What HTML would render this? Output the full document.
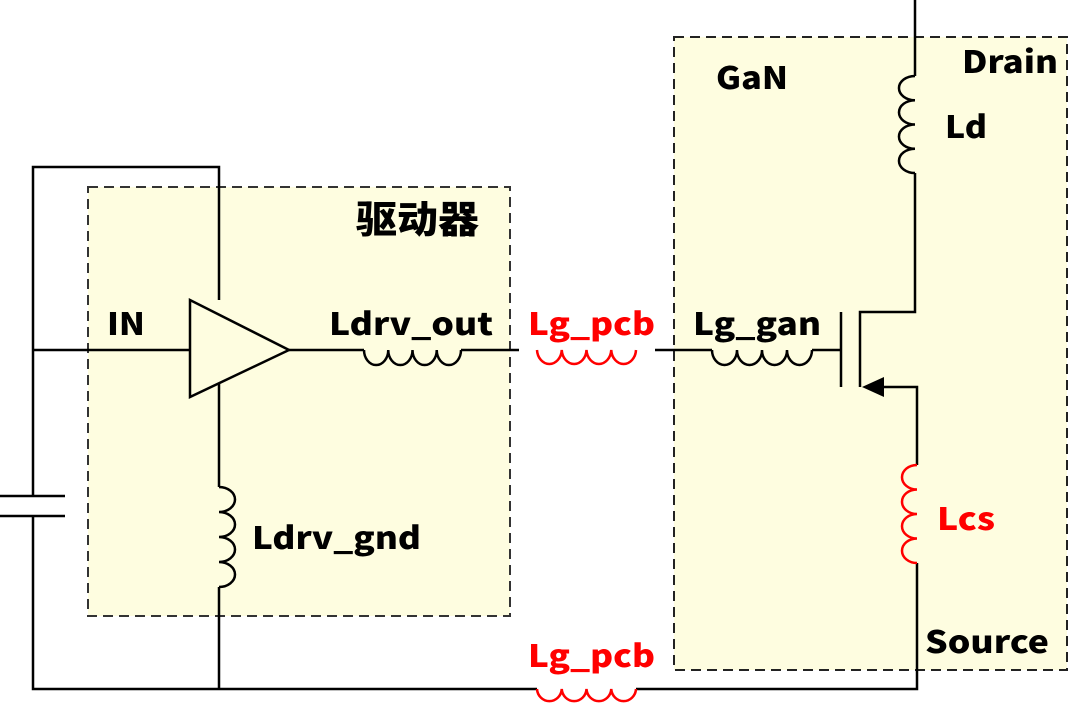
<!DOCTYPE html>
<html><head><meta charset="utf-8"><style>
html,body{margin:0;padding:0;background:#fff;}
svg{display:block;}
text{font-family:"Noto Sans CJK SC","Liberation Sans",sans-serif;font-weight:900;font-size:31px;}
</style></head><body>
<svg width="1080" height="704" viewBox="0 0 1080 704" xmlns="http://www.w3.org/2000/svg">
<rect x="88" y="187" width="422" height="429" fill="#fefde0" stroke="#333" stroke-width="2" stroke-dasharray="10,6"/>
<rect x="674" y="37" width="393" height="633" fill="#fefde0" stroke="#222" stroke-width="2" stroke-dasharray="10,6"/>
<g fill="none" stroke="#000" stroke-width="2.5">
<polyline points="219,300 219,167 33,167 33,496"/>
<line x1="33" y1="350" x2="190" y2="350"/>
<line x1="0" y1="496" x2="65" y2="496"/>
<line x1="0" y1="516" x2="65" y2="516"/>
<polyline points="33,516 33,689 537,689"/>
<polyline points="636,689 917,689 917,563"/>
<polygon points="190,300 190,397 289,350" fill="#fefde0"/>
<line x1="219" y1="384" x2="219" y2="487"/>
<path d="M219,487 a16,12.5 0 0 1 0,25 a16,12.5 0 0 1 0,25 a16,12.5 0 0 1 0,25 a16,12.5 0 0 1 0,25"/>
<line x1="219" y1="587" x2="219" y2="689"/>
<line x1="289" y1="350" x2="364" y2="350"/>
<path d="M364,350 a12.1,15 0 0 0 24.25,0 a12.1,15 0 0 0 24.25,0 a12.1,15 0 0 0 24.25,0 a12.1,15 0 0 0 24.25,0"/>
<line x1="461" y1="350" x2="519" y2="350"/>
<line x1="655" y1="350" x2="712" y2="350"/>
<path d="M712,350 a12.5,15 0 0 0 25,0 a12.5,15 0 0 0 25,0 a12.5,15 0 0 0 25,0 a12.5,15 0 0 0 25,0"/>
<line x1="812" y1="350" x2="841" y2="350"/>
<line x1="841" y1="312" x2="841" y2="387"/>
<polyline points="860,387 860,312 915,312 915,173"/>
<path d="M915,173 a16,12.1 0 0 1 0,-24.25 a16,12.1 0 0 1 0,-24.25 a16,12.1 0 0 1 0,-24.25 a16,12.1 0 0 1 0,-24.25"/>
<line x1="915" y1="76" x2="915" y2="0"/>
<polyline points="880,387 917,387 917,465"/>
</g>
<polygon points="862,387 884,377 884,397" fill="#000"/>
<g fill="none" stroke="#f00" stroke-width="2.5">
<path d="M537,350 a12.4,15 0 0 0 24.75,0 a12.4,15 0 0 0 24.75,0 a12.4,15 0 0 0 24.75,0 a12.4,15 0 0 0 24.75,0"/>
<path d="M537,689 a12.4,13 0 0 0 24.75,0 a12.4,13 0 0 0 24.75,0 a12.4,13 0 0 0 24.75,0 a12.4,13 0 0 0 24.75,0"/>
<path d="M917,465 a15,12.25 0 0 0 0,24.5 a15,12.25 0 0 0 0,24.5 a15,12.25 0 0 0 0,24.5 a15,12.25 0 0 0 0,24.5"/>
</g>
<text x="107" y="335" textLength="38" lengthAdjust="spacingAndGlyphs">IN</text>
<text x="329" y="335" textLength="164" lengthAdjust="spacingAndGlyphs">Ldrv_out</text>
<text x="252" y="549" textLength="169" lengthAdjust="spacingAndGlyphs">Ldrv_gnd</text>
<text x="356" y="233" style="font-size:38px" textLength="123" lengthAdjust="spacingAndGlyphs">驱动器</text>
<text x="528" y="335" fill="#f00" textLength="127" lengthAdjust="spacingAndGlyphs">Lg_pcb</text>
<text x="528" y="667" fill="#f00" textLength="127" lengthAdjust="spacingAndGlyphs">Lg_pcb</text>
<text x="693" y="335" textLength="128" lengthAdjust="spacingAndGlyphs">Lg_gan</text>
<text x="716" y="89" textLength="72" lengthAdjust="spacingAndGlyphs">GaN</text>
<text x="962" y="73" textLength="96" lengthAdjust="spacingAndGlyphs">Drain</text>
<text x="945" y="138" textLength="42" lengthAdjust="spacingAndGlyphs">Ld</text>
<text x="937" y="530" fill="#f00" textLength="58" lengthAdjust="spacingAndGlyphs">Lcs</text>
<text x="925" y="653" textLength="124" lengthAdjust="spacingAndGlyphs">Source</text>
</svg>
</body></html>
